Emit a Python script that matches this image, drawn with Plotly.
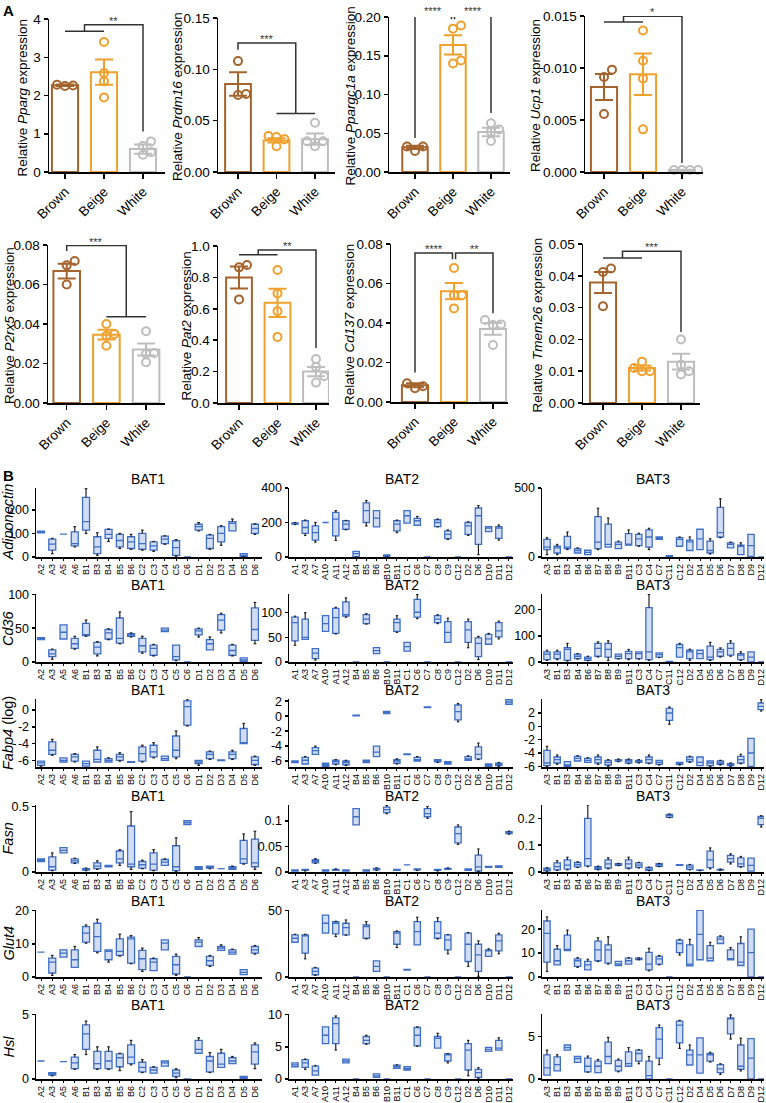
import plotly.graph_objects as go

W, H = 766, 1103
FONT = "Liberation Sans, Arial, Helvetica, sans-serif"

# ===================== Panel A data =====================
groups = ["Brown", "Beige", "White"]
group_colors = ["#A5642D", "#F0A02C", "#BDBDBD"]

genes_a = ["Pparg", "Prdm16", "Ppargc1a", "Ucp1", "P2rx5", "Pat2", "Cd137", "Tmem26"]

pparg_mean = [2.27, 2.61, 0.60]
pparg_sem = [0.02, 0.33, 0.12]
pparg_pts = [[2.28, 2.25, 2.26], [3.40, 2.59, 2.37, 1.95], [0.80, 0.68, 0.52, 0.45]]

prdm16_mean = [0.0857, 0.0308, 0.0320]
prdm16_sem = [0.0115, 0.0020, 0.0055]
prdm16_pts = [[0.108, 0.076, 0.075], [0.035, 0.025, 0.032, 0.034], [0.048, 0.030, 0.025, 0.030]]

ppargc1a_mean = [0.0318, 0.164, 0.0516]
ppargc1a_sem = [0.002, 0.0125, 0.0055]
ppargc1a_pts = [[0.033, 0.027, 0.033], [0.189, 0.185, 0.140, 0.144], [0.055, 0.052, 0.063, 0.040]]

ucp1_mean = [0.00818, 0.0094, 0.0002]
ucp1_sem = [0.00125, 0.0020, 0.00002]
ucp1_pts = [[0.00984, 0.00914, 0.00557], [0.0136, 0.0107, 0.0090, 0.0041], [0.0002, 0.0002, 0.0002, 0.0002]]

p2rx5_mean = [0.0668, 0.0346, 0.0271]
p2rx5_sem = [0.0037, 0.0025, 0.0030]
p2rx5_pts = [[0.0719, 0.0697, 0.0600], [0.040, 0.034, 0.035, 0.029], [0.0363, 0.0250, 0.0253, 0.0206]]

pat2_mean = [0.80, 0.638, 0.20]
pat2_sem = [0.07, 0.09, 0.03]
pat2_pts = [[0.879, 0.864, 0.66], [0.847, 0.698, 0.585, 0.421], [0.28, 0.23, 0.17, 0.13]]

cd137_mean = [0.0085, 0.0561, 0.0370]
cd137_sem = [0.0010, 0.0041, 0.0030]
cd137_pts = [[0.0095, 0.0080, 0.0070], [0.0679, 0.0541, 0.0541, 0.0474], [0.0393, 0.0390, 0.0415, 0.0289]]

tmem26_mean = [0.0379, 0.0110, 0.0130]
tmem26_sem = [0.0033, 0.0008, 0.0025]
tmem26_pts = [[0.0423, 0.0412, 0.0304], [0.013, 0.011, 0.010, 0.010], [0.020, 0.012, 0.010, 0.009]]

# y-axis maxima, tick steps and decimals for panel A
a_ymax = [4, 0.15, 0.20, 0.015, 0.08, 1.0, 0.08, 0.05]
a_dtick = [1, 0.05, 0.05, 0.005, 0.02, 0.2, 0.02, 0.01]
a_dec = [0, 2, 2, 3, 2, 1, 2, 2]

# ===================== Panel B data =====================
cats_bat1 = ["A2", "A3", "A5", "A6", "B1", "B3", "B4", "B5", "B6", "C2", "C3", "C4", "C5", "C6",
             "D1", "D2", "D3", "D4", "D5", "D6"]
cats_bat2 = ["A1", "A3", "A7", "A10", "A11", "A12", "B4", "B5", "B6", "B10", "B11", "C1", "C6", "C7",
             "C8", "C9", "C12", "D2", "D6", "D10", "D11", "D12"]
cats_bat3 = ["A3", "B1", "B3", "B4", "B6", "B7", "B8", "B9", "B11", "C3", "C4", "C7", "C11", "C12",
             "D2", "D4", "D5", "D6", "D7", "D8", "D9", "D12"]
genes_b = ["Adiponectin", "Cd36", "Fabp4", "Fasn", "Glut4", "Hsl"]
tissues = ["BAT1", "BAT2", "BAT3"]

# each entry: [lower whisker, q1, median, q3, upper whisker]
adipo_bat1 = [[103,103,107,110,110],[14,29,55,76,79],[97,97,97,97,97],[43,47,57,107,129],[100,114,150,253,290],
              [7,14,43,86,103],[66,79,96,117,119],[36,43,70,96,100],[33,36,64,86,96],[29,33,57,100,114],
              [24,29,47,64,66],[54,57,76,89,90],[3,7,40,69,74],[0,0,0,0,0],[111,114,129,139,146],
              [33,36,79,93,96],[50,64,100,129,133],[111,111,143,150,161],[0,2,7,14,14],[96,100,121,139,141]]
adipo_bat2 = [[188,190,194,198,200],[125,137,171,210,214],[86,98,141,180,200],[200,200,200,200,200],
              [96,122,220,259,269],[158,161,190,210,212],[0,2,20,33,33],[180,200,269,314,327],
              [175,175,225,269,269],[0,3,8,12,12],[141,151,190,210,214],[196,196,239,269,269],
              [184,184,210,224,235],[0,0,0,0,0],[175,176,200,216,220],[102,106,131,151,157],[0,0,0,0,0],
              [125,131,180,200,204],[14,73,239,284,298],[147,147,167,176,176],[98,108,167,176,186],[0,0,0,0,0]]
adipo_bat3 = [[17,54,71,127,140],[17,29,66,78,91],[54,61,71,150,181],[29,29,47,61,66],[17,17,34,49,49],
              [54,61,108,292,353],[71,71,91,238,282],[61,61,91,108,115],[86,86,91,169,196],[78,83,132,164,172],
              [54,71,145,196,208],[127,127,135,145,145],[0,0,5,10,10],[78,78,127,140,145],[47,47,110,123,145],
              [54,54,132,201,201],[22,29,47,115,132],[140,145,176,360,422],[66,66,91,103,108],[17,17,78,86,103],
              [5,5,83,164,164],[0,0,0,0,0]]

cd36_bat1 = [[33,33,34,36,36],[4,8,12,18,19],[34,34,44,55,55],[19,20,27,35,38],[38,39,40,57,62],[9,12,22,29,30],
             [33,34,43,48,49],[27,28,35,65,74],[37,38,40,42,43],[13,15,24,35,38],[9,10,20,25,26],[45,45,47,50,50],
             [2,3,8,25,25],[0,0,0,0,0],[37,40,46,49,50],[18,18,27,33,37],[43,47,62,70,72],[9,10,17,25,26],
             [1,1,3,6,6],[27,32,48,80,88]]
cd36_bat2 = [[34,43,80,91,93],[46,46,50,87,100],[4,7,18,27,27],[62,62,78,94,94],[57,58,90,109,111],
             [91,93,96,122,130],[0,0,0,0,0],[77,78,87,96,98],[17,17,23,29,29],[0,0,0,0,0],[60,62,80,87,94],
             [22,22,31,40,40],[88,91,101,127,137],[0,0,0,0,0],[78,80,87,94,96],[40,40,60,82,89],[0,0,0,0,0],
             [29,40,65,82,87],[5,11,38,49,52],[36,36,47,56,58],[47,51,63,80,83],[0,0,0,0,0]]
cd36_bat3 = [[6,9,30,39,45],[9,13,30,39,45],[4,6,48,55,71],[11,13,22,30,32],[5,6,13,19,22],[19,22,52,71,77],
             [6,19,48,71,81],[12,13,22,30,30],[9,13,32,41,48],[11,13,32,39,39],[6,9,39,208,258],[17,19,28,35,35],
             [0,0,1,2,2],[19,19,55,67,71],[6,13,39,45,49],[13,13,32,45,45],[6,9,19,61,75],[19,22,39,48,54],
             [22,26,52,71,81],[6,9,26,32,39],[0,0,19,39,39],[0,0,0,0,0]]

fabp4_bat1 = [[-6.7,-6.6,-6.3,-6.1,-6.1],[-5.4,-5.3,-4.8,-3.8,-3.5],[-6.2,-6.2,-6.0,-5.7,-5.7],[-6.2,-6.1,-5.6,-5.3,-5.2],
              [-6.7,-6.7,-6.4,-6.1,-6.1],[-6.2,-6.2,-5.9,-4.8,-4.4],[-6.2,-6.2,-6.0,-5.8,-5.7],[-6.1,-6.0,-5.6,-5.3,-5.1],
              [-6.25,-6.25,-6.2,-6.15,-6.15],[-6.2,-6.1,-5.2,-4.4,-4.2],[-5.7,-5.6,-5.0,-4.2,-3.9],[-6.0,-6.0,-5.8,-5.5,-5.5],
              [-5.8,-5.6,-4.8,-3.1,-2.5],[-1.9,-1.8,0.4,1.1,1.3],[-6.6,-6.4,-6.2,-6.0,-6.0],[-5.9,-5.8,-5.3,-5.0,-4.9],
              [-6.05,-6.05,-6.0,-5.95,-5.95],[-5.9,-5.8,-5.3,-5.0,-4.8],[-4.0,-4.0,-3.9,-2.2,-1.6],[-6.6,-6.5,-6.0,-5.6,-5.5]]
fabp4_bat2 = [[-6.2,-6.2,-6.1,-6.0,-6.0],[-6.4,-6.4,-5.9,-5.5,-5.4],[-5.1,-5.1,-4.6,-4.2,-4.0],[-6.7,-6.7,-6.5,-6.3,-6.3],
              [-6.5,-6.4,-6.1,-5.9,-5.8],[-6.6,-6.5,-6.2,-6.0,-5.9],[0.05,0.05,0.1,0.15,0.15],[-6.2,-6.2,-6.0,-5.9,-5.9],
              [-5.4,-5.4,-4.8,-4.0,-4.0],[0.35,0.35,0.5,0.65,0.65],[-6.4,-6.3,-6.0,-5.8,-5.7],[-5.15,-5.15,-5.1,-5.05,-5.05],
              [-6.0,-6.0,-5.8,-5.5,-5.4],[1.15,1.15,1.2,1.25,1.25],[-6.2,-6.1,-6.0,-5.8,-5.8],[-6.4,-6.4,-6.2,-6.1,-6.1],
              [-0.75,-0.5,0.6,1.5,1.7],[-5.9,-5.9,-5.7,-5.4,-5.3],[-5.8,-5.7,-5.1,-4.1,-3.6],[-6.7,-6.7,-6.5,-6.4,-6.4],
              [-6.7,-6.6,-6.5,-6.3,-6.2],[1.6,1.6,1.9,2.2,2.2]]
fabp4_bat3 = [[-6.0,-5.9,-5.5,-3.6,-3.0],[-5.7,-5.5,-5.0,-4.6,-4.3],[-6.0,-6.0,-5.8,-5.3,-5.3],[-5.2,-5.2,-4.8,-4.5,-4.4],
              [-5.4,-5.4,-5.1,-4.8,-4.7],[-5.7,-5.5,-5.0,-4.6,-4.3],[-6.0,-5.8,-5.4,-5.1,-5.0],[-5.3,-5.2,-5.1,-5.0,-4.9],
              [-5.6,-5.5,-5.2,-5.0,-4.9],[-5.5,-5.4,-5.2,-5.1,-5.0],[-5.6,-5.5,-5.0,-4.6,-4.3],[-5.8,-5.7,-5.4,-5.1,-5.1],
              [0.3,0.9,2.0,2.7,2.9],[-5.8,-5.7,-5.5,-5.4,-5.4],[-5.4,-5.3,-5.0,-4.6,-4.5],[-5.9,-5.9,-5.4,-4.6,-4.6],
              [-6.0,-5.9,-5.5,-5.2,-5.2],[-5.8,-5.7,-5.5,-5.2,-5.1],[-6.0,-5.9,-5.7,-5.6,-5.5],[-5.6,-5.5,-5.0,-4.5,-4.2],
              [-6.0,-6.0,-4.0,-1.8,-1.8],[2.3,2.5,3.0,3.5,4.0]]

fasn_bat1 = [[0.08,0.08,0.09,0.10,0.10],[0.01,0.015,0.04,0.115,0.145],[0.145,0.145,0.165,0.185,0.185],
             [0.065,0.07,0.085,0.10,0.105],[0.01,0.015,0.02,0.025,0.03],[0.02,0.025,0.045,0.07,0.085],
             [0.04,0.04,0.045,0.05,0.05],[0.05,0.07,0.10,0.16,0.17],[0.02,0.04,0.06,0.35,0.46],
             [0.025,0.03,0.055,0.08,0.09],[0.01,0.015,0.06,0.145,0.17],[0.05,0.05,0.075,0.095,0.10],
             [0.005,0.01,0.04,0.20,0.26],[0.36,0.36,0.375,0.39,0.39],[0.02,0.02,0.03,0.04,0.04],
             [0.025,0.03,0.035,0.045,0.045],[0.025,0.025,0.025,0.025,0.025],[0.02,0.02,0.03,0.04,0.045],
             [0.06,0.065,0.10,0.24,0.29],[0.02,0.04,0.07,0.25,0.31]]
fasn_bat2 = [[0.002,0.002,0.003,0.004,0.004],[0.002,0.003,0.004,0.005,0.005],[0.017,0.018,0.021,0.024,0.026],
             [0.002,0.002,0.003,0.004,0.004],[0.003,0.003,0.004,0.005,0.006],[0.002,0.002,0.003,0.004,0.004],
             [0.092,0.092,0.108,0.124,0.124],[0.002,0.002,0.003,0.004,0.004],[0.003,0.004,0.006,0.007,0.008],
             [0.114,0.116,0.122,0.127,0.13],[0.003,0.003,0.004,0.005,0.005],[0.014,0.014,0.014,0.014,0.014],
             [0.003,0.004,0.005,0.006,0.006],[0.105,0.108,0.114,0.124,0.128],[0.002,0.003,0.004,0.005,0.005],
             [0.005,0.005,0.006,0.007,0.008],[0.054,0.057,0.075,0.088,0.092],[0.003,0.003,0.005,0.006,0.006],
             [0.001,0.002,0.01,0.033,0.045],[0.009,0.009,0.01,0.011,0.011],[0.009,0.009,0.011,0.012,0.012],
             [0.074,0.075,0.077,0.079,0.08]]
fasn_bat3 = [[0.003,0.004,0.008,0.014,0.016],[0.006,0.008,0.02,0.034,0.042],[0.008,0.011,0.026,0.045,0.055],
             [0.017,0.019,0.028,0.036,0.038],[0.02,0.023,0.05,0.2,0.25],[0.008,0.01,0.015,0.02,0.022],
             [0.012,0.015,0.03,0.045,0.053],[0.024,0.025,0.028,0.031,0.032],[0.012,0.015,0.03,0.045,0.055],
             [0.015,0.017,0.026,0.034,0.036],[0.005,0.006,0.011,0.017,0.018],[0.02,0.021,0.027,0.031,0.032],
             [0.203,0.204,0.21,0.215,0.216],[0.025,0.025,0.026,0.027,0.027],[0.008,0.01,0.018,0.026,0.028],
             [0.005,0.006,0.007,0.008,0.008],[0.012,0.016,0.045,0.078,0.09],[0.006,0.007,0.009,0.01,0.011],
             [0.03,0.037,0.05,0.062,0.068],[0.018,0.02,0.03,0.053,0.058],[0.003,0.003,0.025,0.052,0.052],
             [0.168,0.177,0.2,0.207,0.21]]

glut4_bat1 = [[7.5,7.5,7.5,7.5,7.5],[0.5,1.2,4.5,5.7,6.5],[6,6,7.2,8.2,8.2],[2.9,2.9,5.2,8.2,9.2],
              [10.2,10.5,13.2,15.2,15.7],[7.3,7.7,12.2,16.2,17.4],[4.5,5.2,7.7,8.2,8.2],[6.3,6.5,7.7,11.5,12.9],
              [4.0,4.2,11.5,12.0,12.5],[1.7,2.2,5.5,8.0,8.7],[1.9,1.9,4.5,5.5,5.7],[8.2,8.2,10.2,11.2,11.2],
              [0.5,0.9,3.7,6.2,6.9],[0,0,0,0,0],[9.2,9.2,10.5,11.2,11.9],[3.2,3.5,4.9,6.2,6.5],[8,8,8.7,9.2,9.7],
              [6.9,6.9,7.5,8.2,8.4],[0.7,0.7,1.4,2.2,2.2],[6.9,7.2,8.2,9.2,9.5]]
glut4_bat2 = [[26.2,26.2,29.2,31.7,32.2],[13.7,18,31,31.7,32.2],[1.2,1.7,4.2,6.7,7.2],[33,33,40.5,46.7,46.7],
              [30.5,32.5,40.5,41.7,42],[31.5,31.7,37.2,40.5,43],[0,0,0,0,0],[28.7,29.2,38,39.2,41.7],
              [4.2,4.2,8,12.2,12.2],[0,0,0,0,0],[22.2,24.7,33,34.2,34.7],[5.2,5.2,5.5,5.8,5.8],
              [24.2,24.2,34.2,41.7,45],[0,0,0,0,0],[28.7,29.2,33,41.7,44.7],[17.5,20.5,28,31.7,32],[0,0,0,0,0],
              [8,11.7,24.7,33,33.5],[0.5,4.2,16.7,24.7,27.2],[15.5,15.5,20,20.5,21.2],[17.5,19.7,27.2,31.7,33],
              [0,0,0,0,0]]
glut4_bat3 = [[2.3,6.2,18.2,23.4,25.1],[5.1,5.1,6.8,11.6,13.1],[11,11,11.5,17.5,19.6],[4,4.4,6.8,7.6,8.1],
              [3,3,5.1,6.5,7.4],[6.5,6.8,11.3,15,16.4],[5.4,5.8,11.3,13.4,16.8],[4.8,4.8,5.5,6.5,6.5],
              [5.4,5.4,6.8,7.9,8.1],[7.2,7.3,7.6,7.9,8],[2.6,3,5.4,10.3,12],[5.1,5.4,7.6,8.6,9],[0,0,0,0,0],
              [9.2,10.2,14,15.4,15.7],[4.7,4.7,5.4,13.4,15.7],[7.2,7.2,17.8,27.9,27.9],[6.8,6.8,7.9,13.1,14.5],
              [14,14,15.8,16.8,17.2],[7.2,7.2,7.6,11.3,12.3],[4.8,4.8,6.2,14,16.8],[0,0,10.2,20,20],[0,0,0,0,0]]

hsl_bat1 = [[1.4,1.4,1.4,1.4,1.4],[0.25,0.3,0.4,0.5,0.5],[1.35,1.35,1.35,1.35,1.35],[0.75,0.8,1.25,1.7,1.9],
            [1.9,2.3,3.5,4.2,4.5],[0.75,0.8,1.2,2.15,2.5],[0.75,0.8,1.4,2.15,2.5],[0.65,0.95,1.65,1.95,2.0],
            [1.1,1.2,1.7,2.65,3.0],[0.5,0.55,0.9,1.3,1.5],[0.45,0.45,0.7,0.9,0.95],[1.0,1.0,1.25,1.4,1.4],
            [0.1,0.2,0.45,0.7,0.8],[0,0,0,0,0],[2.0,2.0,2.3,3.0,3.2],[0.5,0.55,1.4,1.75,2.05],[0.9,0.9,1.15,2.0,2.3],
            [1.2,1.2,1.4,1.65,1.75],[0,0,0.1,0.2,0.2],[0.8,1.15,2.1,2.65,2.8]]
hsl_bat2 = [[1.9,1.9,2.2,2.5,2.5],[1.5,1.8,2.5,3.0,3.1],[0.6,0.6,1.25,2.0,2.1],[5.5,5.5,6.8,8.1,8.1],
            [4.5,5.5,8.6,9.5,9.8],[2.5,2.5,2.8,3.1,3.1],[0,0,0,0,0],[5.4,5.5,6.0,6.6,6.8],[0.25,0.25,0.5,0.8,0.8],
            [0,0,0,0,0],[1.65,1.65,1.9,2.15,2.2],[1.4,1.4,1.6,1.9,1.9],[5.1,5.15,6.8,8.0,8.1],[0,0,0,0,0],
            [4.8,4.8,6.3,6.6,7.1],[2.5,2.8,3.8,3.9,3.95],[0,0,0,0,0],[0.5,1.4,4.5,5.5,6.0],[0.1,0.25,1.0,1.5,1.75],
            [4.3,4.3,4.6,4.9,4.9],[4.5,4.5,4.8,6.0,6.4],[0,0,0,0,0]]
hsl_bat3 = [[0.45,0.45,1.3,2.85,3.4],[0.95,0.95,1.7,2.6,2.85],[3.4,3.4,3.7,4.0,4.0],[1.95,1.95,2.4,2.65,2.65],
            [0.8,0.85,1.5,2.45,2.7],[0.75,0.75,1.5,2.1,2.3],[1.8,1.8,2.65,4.35,4.9],[0.85,0.95,1.5,2.2,2.35],
            [1.5,1.5,1.8,3.2,3.7],[1.8,2.1,3.0,3.4,3.45],[0,0,0.4,2.1,2.65],[1.7,2.45,4.7,6.05,6.35],[0,0,0,0,0],
            [3.6,4.25,6.35,6.8,6.9],[1.65,1.65,2.85,3.4,4.0],[0.7,0.7,2.85,4.85,4.85],[2.0,2.1,2.85,3.0,3.15],
            [0.55,0.75,1.2,1.7,1.8],[4.7,5.3,7.1,7.2,7.55],[0.95,1.15,1.5,4.0,4.8],[0,0,2.45,4.75,4.75],[0,0,0,0,0]]

# y ranges / tick values for panel B (per gene row, per tissue column)
b_yrange = [[[0, 293], [0, 400], [0, 500]],
            [[0, 100.5], [0, 138], [0, 260]],
            [[-6.8, 1.32], [-6.8, 2.3], [-6.1, 4.1]],
            [[0, 0.51], [0, 0.131], [0, 0.25]],
            [[0, 20.2], [0, 50.5], [0, 28]],
            [[0, 5.05], [0, 10.1], [0, 7.65]]]
b_ticks = [[[0, 100, 200], [0, 200, 400], [0, 500]],
           [[0, 50, 100], [0, 50, 100], [0, 100, 200]],
           [[-6, -4, -2, 0], [-6, -4, -2, 0, 2], [-6, -4, -2, 0, 2]],
           [[0, 0.5], [0, 0.05, 0.1], [0, 0.1, 0.2]],
           [[0, 10, 20], [0, 50], [0, 10, 20]],
           [[0, 5], [0, 5, 10], [0, 5]]]

# ===================== helpers =====================
def xd(px):
    return px / W


def yd(py):
    return 1 - py / H


def names(i):
    s = "" if i == 1 else str(i)
    return "xaxis" + s, "yaxis" + s, "x" + s, "y" + s


fig = go.Figure()
layout_axes = {}
annotations = []

AXIS_STYLE = dict(showline=True, linecolor="black", linewidth=1.5, ticks="outside",
                  tickcolor="black", tickwidth=1.5, showgrid=False, zeroline=False,
                  fixedrange=True, automargin=False,
                  tickfont=dict(family=FONT, size=13, color="black"))


def swarm_offsets(vals, ppu_y, ppu_x, d=8.0):
    placed = []
    offs = [0.0] * len(vals)
    for i in sorted(range(len(vals)), key=lambda k: vals[k]):
        ypx = vals[i] * ppu_y
        cand = 0.0
        for k in range(0, 14):
            cand = 0.0 if k == 0 else ((k + 1) // 2) * d * (1 if k % 2 else -1)
            if all((cand - px) ** 2 + (ypx - py) ** 2 >= (d * 0.95) ** 2 for px, py in placed):
                break
        placed.append((cand, ypx))
        offs[i] = cand / ppu_x
    return offs


# ===================== Panel A =====================
a_means = [pparg_mean, prdm16_mean, ppargc1a_mean, ucp1_mean, p2rx5_mean, pat2_mean, cd137_mean, tmem26_mean]
a_sems = [pparg_sem, prdm16_sem, ppargc1a_sem, ucp1_sem, p2rx5_sem, pat2_sem, cd137_sem, tmem26_sem]
a_pts = [pparg_pts, prdm16_pts, ppargc1a_pts, ucp1_pts, p2rx5_pts, pat2_pts, cd137_pts, tmem26_pts]

# pixel geometry: left axis, right end, top, bottom, first category centre, category spacing
a_geom = [(49, 165, 19, 172, 65, 39), (218, 335, 18, 172, 238, 38.5),
          (389, 510, 17, 172, 415, 38), (585, 703, 16, 172, 604, 39),
          (48, 165, 245, 403, 66.7, 39.7), (218, 329, 246, 403, 239, 38.5),
          (391, 508, 244, 402, 415, 39), (583, 700, 244, 403, 603, 39)]
a_title_x = [22, 177, 350, 535, 9, 186, 350, 537]

for k in range(8):
    i = k + 1
    xa, ya, xr, yr = names(i)
    left, right, top, bottom, c0, sp = a_geom[k]
    ymax = a_ymax[k]
    nt = int(round(ymax / a_dtick[k]))
    tv = [j * a_dtick[k] for j in range(nt + 1)]
    tt = [f"{v:.{a_dec[k]}f}" for v in tv]
    layout_axes[xa] = dict(AXIS_STYLE, domain=[xd(left), xd(right)],
                           range=[(left - c0) / sp, (right - c0) / sp], anchor=yr,
                           tickvals=[0, 1, 2], ticktext=groups, tickangle=-45, ticklen=5,
                           tickfont=dict(family=FONT, size=13.5, color="black"))
    layout_axes[ya] = dict(AXIS_STYLE, domain=[yd(bottom), yd(top)], range=[0, ymax],
                           anchor=xr, tickvals=tv, ticktext=tt, ticklen=4,
                           tickfont=dict(family=FONT, size=13.5, color="black"))
    ppu_y = (bottom - top) / ymax
    for g in range(3):
        col = group_colors[g]
        fig.add_trace(go.Bar(x=[g], y=[a_means[k][g]], width=0.67, xaxis=xr, yaxis=yr,
                             marker=dict(color="white", line=dict(color=col, width=2)),
                             error_y=dict(type="data", array=[a_sems[k][g]], color=col,
                                          thickness=2, width=9),
                             showlegend=False, hoverinfo="skip"))
        pts = a_pts[k][g]
        offs = swarm_offsets(pts, ppu_y, sp)
        fig.add_trace(go.Scatter(x=[g + o for o in offs], y=pts, mode="markers", xaxis=xr, yaxis=yr,
                                 marker=dict(symbol="circle-open", size=8, color=col,
                                             line=dict(width=2, color=col)),
                                 showlegend=False, hoverinfo="skip", cliponaxis=False))
    annotations.append(dict(xref="paper", yref="paper", x=xd(a_title_x[k]), y=yd((top + bottom) / 2 + 2),
                            text=f"Relative <i>{genes_a[k]}</i> expression", textangle=-90,
                            showarrow=False, font=dict(family=FONT, size=13.5, color="black"),
                            xanchor="center", yanchor="middle"))

# significance brackets (data coordinates of each panel-A subplot)
def group_bracket(g_lo, g_hi, y_grp, y_top, x_far, y_far):
    mid = (g_lo + g_hi) / 2
    xs = [g_lo, g_hi, None, mid, mid, x_far, x_far]
    ys = [y_grp, y_grp, None, y_grp, y_top, y_top, y_far]
    return xs, ys, (mid + x_far) / 2, y_top


def single_to_group(x0, y0, y_top, g_lo, g_hi, y_grp):
    mid = (g_lo + g_hi) / 2
    xs = [x0, x0, mid, mid, None, g_lo, g_hi]
    ys = [y0, y_top, y_top, y_grp, None, y_grp, y_grp]
    return xs, ys, (x0 + mid) / 2, y_top


def simple(xa_, ya_, xb_, yb_, y_top):
    return [xa_, xa_, xb_, xb_], [ya_, y_top, y_top, yb_], (xa_ + xb_) / 2, y_top


sig = {
    1: [(group_bracket(0, 1, 3.68, 3.85, 2, 1.06), "**")],
    2: [(single_to_group(0, 0.119, 0.1256, 1, 2, 0.057), "***")],
    3: [(simple(0, 0.044, 0.96, 0.197, 0.2026), "****"), (simple(1.04, 0.197, 2, 0.076, 0.2026), "****")],
    4: [(group_bracket(0, 1, 0.01443, 0.01497, 2, 0.00086), "*")],
    5: [(single_to_group(0, 0.077, 0.0797, 1, 2, 0.0437), "***")],
    6: [(group_bracket(0, 1, 0.945, 0.974, 2, 0.35), "**")],
    7: [(simple(0, 0.015, 0.96, 0.0723, 0.0755), "****"), (simple(1.04, 0.0723, 2, 0.0449, 0.0755), "**")],
    8: [(group_bracket(0, 1, 0.0456, 0.0477, 2, 0.0223), "***")],
}
for i, items in sig.items():
    _, _, xr, yr = names(i)
    left, right, top, bottom, c0, sp = a_geom[i - 1]
    ymax = a_ymax[i - 1]
    for (xs, ys, lx, ly), label in items:
        fig.add_trace(go.Scatter(x=xs, y=ys, mode="lines", xaxis=xr, yaxis=yr,
                                 line=dict(color="#333333", width=1.5), showlegend=False,
                                 hoverinfo="skip", cliponaxis=False))
        px_x = c0 + lx * sp
        px_y = bottom - ly / ymax * (bottom - top)
        annotations.append(dict(xref="paper", yref="paper", x=xd(px_x), y=yd(px_y), text=label,
                                showarrow=False, xanchor="center", yanchor="bottom", yshift=-4,
                                font=dict(family=FONT, size=11, color="#333333")))

# ===================== Panel B =====================
b_data = [[adipo_bat1, adipo_bat2, adipo_bat3], [cd36_bat1, cd36_bat2, cd36_bat3],
          [fabp4_bat1, fabp4_bat2, fabp4_bat3], [fasn_bat1, fasn_bat2, fasn_bat3],
          [glut4_bat1, glut4_bat2, glut4_bat3], [hsl_bat1, hsl_bat2, hsl_bat3]]
b_cats = [cats_bat1, cats_bat2, cats_bat3]
b_titles_y = ["<i>Adiponectin</i>", "<i>Cd36</i>", "<i>Fabp4</i> (log)", "<i>Fasn</i>", "<i>Glut4</i>", "<i>Hsl</i>"]

col_px = [(36, 262, 41, 11.26), (289, 513, 295, 10.19), (542, 764, 547, 10.2)]
col_title_x = [148, 402, 653]
row_px = [(488, 557), (594, 662), (699, 767), (805, 872), (910, 977), (1014, 1079)]

BOX_LINE = "#3F6FC6"
BOX_FILL = "#D2DDF3"

for r in range(6):
    top, bottom = row_px[r]
    for c in range(3):
        i = 9 + r * 3 + c
        xa, ya, xr, yr = names(i)
        left, right, c0, sp = col_px[c]
        cats = b_cats[c]
        n = len(cats)
        xs = list(range(1, n + 1))
        stats = b_data[r][c]
        lo = [s[0] for s in stats]
        q1 = [s[1] for s in stats]
        md = [s[2] for s in stats]
        q3 = [s[3] for s in stats]
        hi = [s[4] for s in stats]
        tv = b_ticks[r][c]
        layout_axes[xa] = dict(AXIS_STYLE, domain=[xd(left), xd(right)],
                               range=[1 + (left - c0) / sp, 1 + (right - c0) / sp], anchor=yr,
                               tickvals=xs, ticktext=cats, tickangle=-90, ticklen=2, tickwidth=1,
                               ticklabeloverflow="allow",
                               tickfont=dict(family=FONT, size=9, color="black"))
        layout_axes[ya] = dict(AXIS_STYLE, domain=[yd(bottom), yd(top)], range=b_yrange[r][c],
                               anchor=xr, tickvals=tv, ticktext=[f"{v:g}" for v in tv], ticklen=3,
                               tickfont=dict(family=FONT, size=12.5, color="black"))
        fig.add_trace(go.Box(x=xs, q1=q1, median=md, q3=q3, lowerfence=q1, upperfence=q3,
                             orientation="v", width=0.62, xaxis=xr, yaxis=yr, boxpoints=False,
                             fillcolor=BOX_FILL, line=dict(color=BOX_LINE, width=1.3),
                             whiskerwidth=0, showlegend=False, hoverinfo="skip"))
        wx, wy = [], []
        cap = 0.12
        for x, l, a, b, h in zip(xs, lo, q1, q3, hi):
            if h > b:
                wx += [x, x, None, x - cap, x + cap, None]
                wy += [b, h, None, h, h, None]
            if l < a:
                wx += [x, x, None, x - cap, x + cap, None]
                wy += [a, l, None, l, l, None]
        if wx:
            fig.add_trace(go.Scatter(x=wx, y=wy, mode="lines", xaxis=xr, yaxis=yr,
                                     line=dict(color="#222222", width=1.2), showlegend=False,
                                     hoverinfo="skip", cliponaxis=False))
        annotations.append(dict(xref="paper", yref="paper", x=xd(col_title_x[c]), y=yd(top - 9),
                                text=tissues[c], showarrow=False, xanchor="center", yanchor="middle",
                                font=dict(family=FONT, size=14, color="black")))
    annotations.append(dict(xref="paper", yref="paper", x=xd(8), y=yd((top + bottom) / 2),
                            text=b_titles_y[r], textangle=-90, showarrow=False,
                            xanchor="center", yanchor="middle",
                            font=dict(family=FONT, size=14.5, color="black")))

# panel letters
annotations.append(dict(xref="paper", yref="paper", x=xd(1), y=yd(0), text="<b>A</b>", showarrow=False,
                        xanchor="left", yanchor="top", font=dict(family=FONT, size=15, color="black")))
annotations.append(dict(xref="paper", yref="paper", x=xd(1), y=yd(465), text="<b>B</b>", showarrow=False,
                        xanchor="left", yanchor="top", font=dict(family=FONT, size=15, color="black")))

fig.update_layout(width=W, height=H, autosize=False, margin=dict(l=0, r=0, t=0, b=0, pad=0),
                  plot_bgcolor="white", paper_bgcolor="white", barmode="overlay", boxmode="overlay",
                  showlegend=False, annotations=annotations, font=dict(family=FONT, color="black"),
                  **layout_axes)

# remove the default page margin so the 766x1103 figure fills the window exactly
fig.write_html("out.html", config={"displayModeBar": False, "staticPlot": True},
               post_script="document.body.style.margin='0';document.body.style.padding='0';"
                           "document.documentElement.style.overflow='hidden';")
